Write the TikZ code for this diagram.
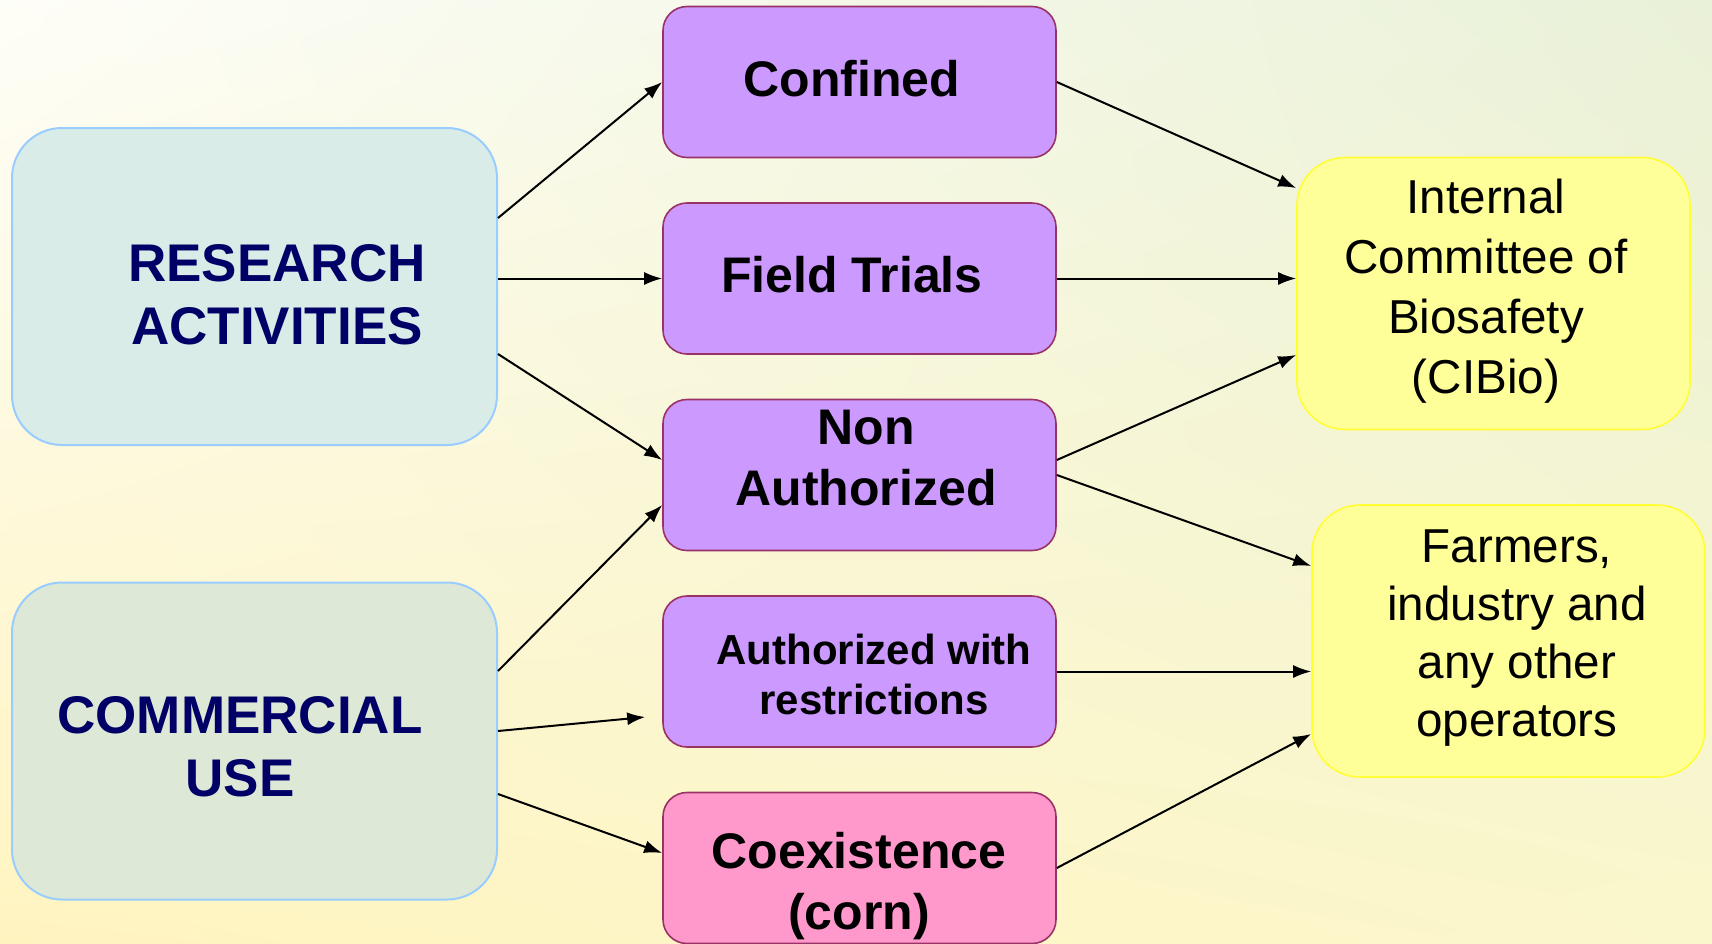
\documentclass[tikz,border=0pt]{standalone}
\usepackage{fontspec}
\setmainfont{Liberation Sans}
\usetikzlibrary{arrows.meta,calc,shadings}
\definecolor{BackTL}{HTML}{FEFEF8}
\definecolor{BackTR}{HTML}{E9F1D8}
\definecolor{BackBL}{HTML}{FFF4C0}
\definecolor{BackBR}{HTML}{FBF7CC}
\definecolor{ResClr}{HTML}{DAECE8}
\definecolor{ComClr}{HTML}{DDE9D6}
\definecolor{EdgeClr}{HTML}{99CCFF}
\definecolor{NavyClr}{HTML}{000066}
\definecolor{LilacClr}{HTML}{CC99FF}
\definecolor{PinkClr}{HTML}{FF99CC}
\definecolor{WineClr}{HTML}{993366}
\definecolor{LemonClr}{HTML}{FFFF99}
\definecolor{LemonEdge}{HTML}{FFFF33}

\tikzset{
  usebox/.style={draw=EdgeClr,line width=1pt,rounded corners=25pt,
    minimum width=242.5pt,minimum height=158.5pt},
  stagebox/.style={draw=WineClr,fill=LilacClr,line width=0.8pt,rounded corners=12pt,
    minimum width=196.5pt,minimum height=75.5pt},
  bodybox/.style={draw=LemonEdge,fill=LemonClr,line width=0.8pt,rounded corners=24pt,
    minimum width=196.5pt,minimum height=136pt},
  usetext/.style={align=center,text=NavyClr,font=\fontsize{26.5}{31.7}\selectfont\bfseries},
  stagetext/.style={align=center,font=\fontsize{25}{30.5}\selectfont\bfseries},
  bodytext/.style={align=center,font=\fontsize{23.8}{30}\selectfont},
  flow/.style={line width=1pt,-{Latex[length=9pt,width=6.5pt]}}
}

\begin{document}
\begin{tikzpicture}[x=0.5pt,y=-0.5pt]
\useasboundingbox (0,0) rectangle (1712,943);
\shade[upper left=BackTL,upper right=BackTR,lower left=BackBL,lower right=BackBR]
  (0,0) rectangle (1712,943);

% left boxes
\node[usebox,fill=ResClr] (research) at (254.5,286.5) {};
\node[usebox,fill=ComClr] (commercial) at (254.5,741) {};
\node[usetext] (research-t) at (277,295) {RESEARCH\\ACTIVITIES};
\node[usetext] (commercial-t) at (240,747) {COMMERCIAL\\USE};

% middle column
\node[stagebox] (confined) at (859.5,82) {};
\node[stagebox] (field) at (859.5,278.5) {};
\node[stagebox] (nonauth) at (859.5,475) {};
\node[stagebox] (authrestr) at (859.5,671.5) {};
\node[stagebox,fill=PinkClr] (coexist) at (859.5,868) {};
\node[stagetext] (confined-t) at (852,79) {Confined};
\node[stagetext] (field-t) at (852,275) {Field Trials};
\node[stagetext] (nonauth-t) at (866,458) {Non\\Authorized};
\node[stagetext,font=\fontsize{21}{25}\selectfont\bfseries] (authrestr-t) at (874,674) {Authorized with\\restrictions};
\node[stagetext] (coexist-t) at (859,886.5) {Coexistence\\(corn)};

% right boxes
\node[bodybox] (internal) at (1493.5,293.5) {};
\node[bodybox] (farmers) at (1508.5,641) {};
\node[bodytext] (internal-t) at (1486,291) {Internal\\Committee of\\Biosafety\\(CIBio)};
\node[bodytext,font=\fontsize{23.8}{29}\selectfont] (farmers-t) at (1517,638) {Farmers,\\industry and\\any other\\operators};

% connectors
\draw[flow] ($(research.east)+(0,-68.5)$) -- (confined.west);
\draw[flow] (research.east |- field.west) -- (field.west);
\draw[flow] ($(research.east)+(0,67.5)$) -- ($(nonauth.west)+(0,-15)$);
\draw[flow] ($(commercial.east)+(0,-70)$) -- ($(nonauth.west)+(0,30)$);
\draw[flow] ($(commercial.east)+(0,-10)$) -- ($(authrestr.west)+(-17,45.5)$);
\draw[flow] ($(commercial.east)+(0,53)$) -- ($(coexist.west)+(0,-15)$);

\draw[flow] (confined.east) -- ($(internal.west)+(0,-105.5)$);
\draw[flow] (field.east) -- (internal.west |- field.east);
\draw[flow] ($(nonauth.east)+(0,-15)$) -- ($(internal.west)+(0,61.5)$);
\draw[flow] (nonauth.east) -- ($(farmers.west)+(0,-75)$);
\draw[flow] (authrestr.east) -- (farmers.west |- authrestr.east);
\draw[flow] (coexist.east) -- ($(farmers.west)+(0,93)$);

\end{tikzpicture}
\end{document}
